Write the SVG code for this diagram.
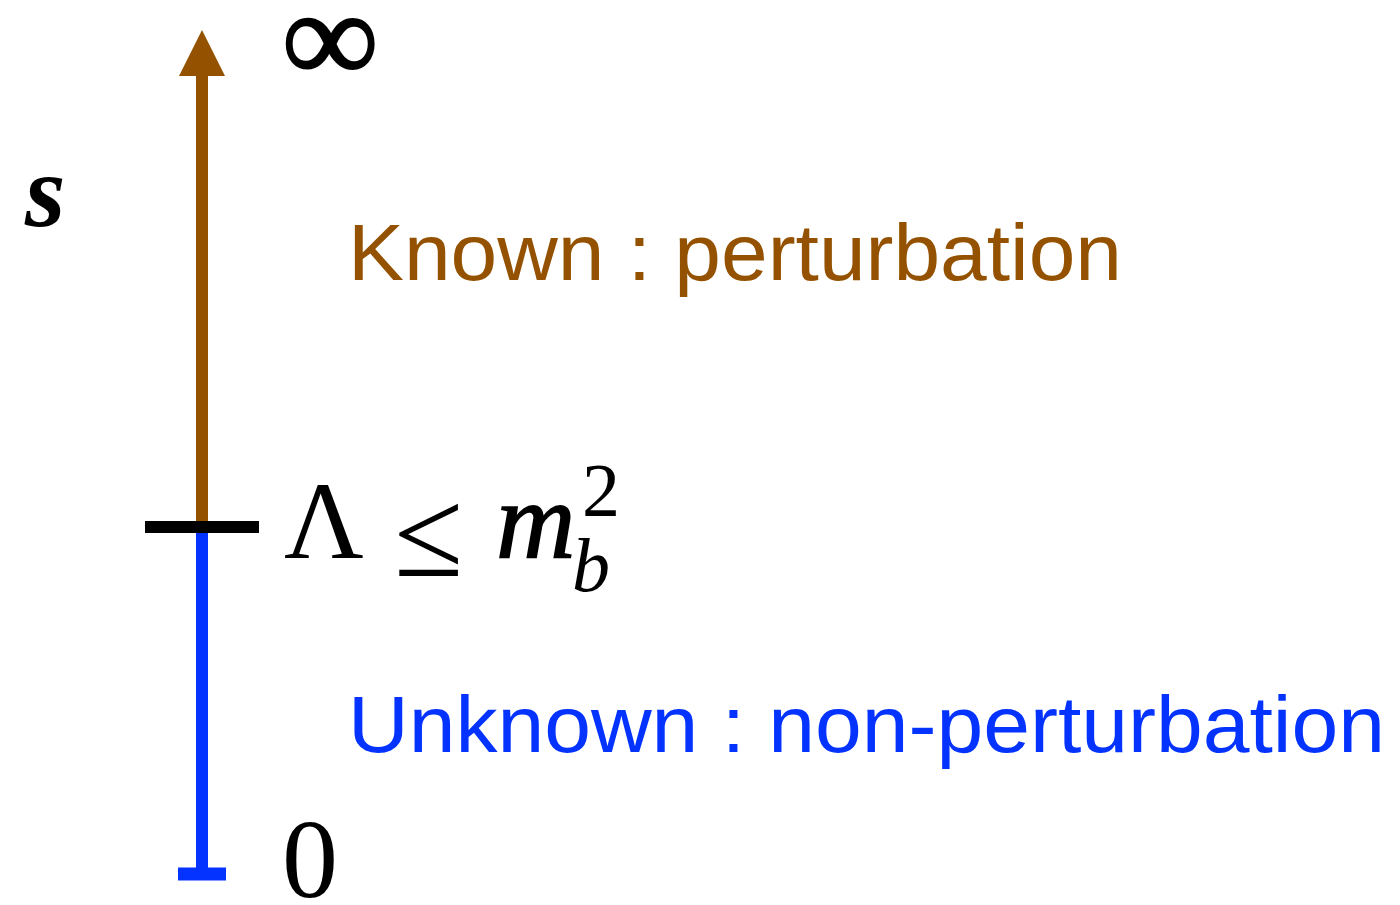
<svg xmlns="http://www.w3.org/2000/svg" width="1400" height="905" viewBox="0 0 1400 905">
<style>
.math{font-family:"Liberation Serif","Times New Roman",serif;fill:#000}
.lbl{font-family:"Liberation Sans",Arial,sans-serif;font-size:80px}
</style>
<rect width="1400" height="905" fill="#fff"/>
<g id="connectors">
<line x1="202" y1="72" x2="202" y2="527" stroke="#945200" stroke-width="12"/>
<polygon points="202,30 179,76 225,76" fill="#945200"/>
<line x1="202" y1="527" x2="202" y2="874" stroke="#0433FF" stroke-width="12"/>
<line x1="178" y1="874" x2="226" y2="874" stroke="#0433FF" stroke-width="13"/>
<line x1="145" y1="527" x2="259" y2="527" stroke="#000" stroke-width="12"/>
</g>
<g id="axis-label"><text class="math" x="25" y="226" font-size="104" font-style="italic" font-weight="bold">s</text></g>
<g id="infinity"><text class="math" x="283" y="82" font-size="132" font-weight="bold" stroke="#000" stroke-width="2">∞</text></g>
<g id="known"><text class="lbl" x="348" y="280" fill="#945200" textLength="774" lengthAdjust="spacingAndGlyphs">Known : perturbation</text></g>
<g id="threshold">
<text class="math" x="284" y="558" font-size="110">Λ</text>
<text class="math" x="394" y="576" font-size="126">≤</text>
<text class="math" x="496" y="558" font-size="110" font-style="italic" stroke="#000" stroke-width="1.5">m</text>
<text class="math" x="572" y="591" font-size="76" font-style="italic">b</text>
<text class="math" x="582" y="516" font-size="76">2</text>
</g>
<g id="unknown"><text class="lbl" x="348" y="752" fill="#0433FF" textLength="1037" lengthAdjust="spacingAndGlyphs">Unknown : non-perturbation</text></g>
<g id="zero"><text class="math" x="282" y="897" font-size="112">0</text></g>
</svg>
